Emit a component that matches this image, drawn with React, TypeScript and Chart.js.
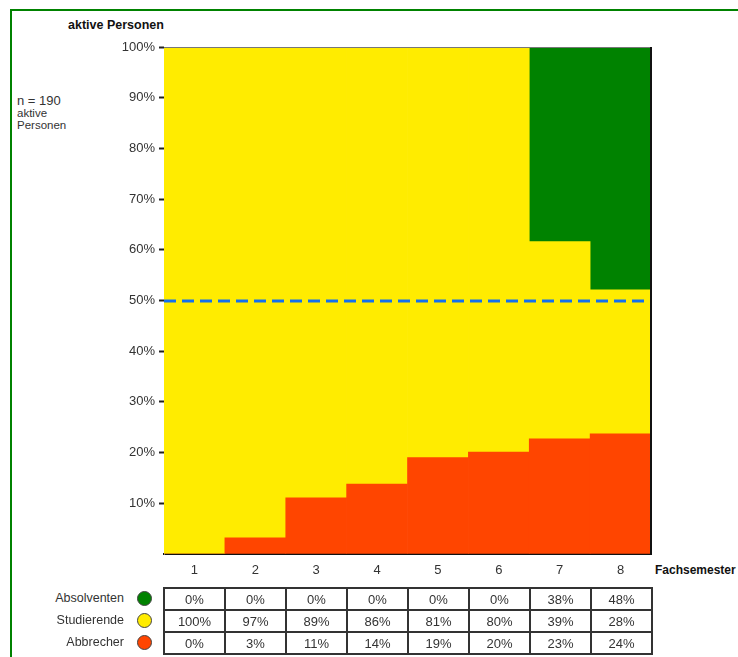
import React, { useEffect, useRef } from "react";
import { Chart, registerables } from "chart.js";

Chart.register(...registerables);

const CATEGORIES = ["1", "2", "3", "4", "5", "6", "7", "8"];
const ABBRECHER = [0, 3.2, 11.1, 13.8, 19.0, 20.1, 22.7, 23.7];
const STUDIERENDE = [100, 96.8, 88.9, 86.2, 81.0, 79.9, 38.9, 28.4];
const ABSOLVENTEN = [0, 0, 0, 0, 0, 0, 38.4, 47.9];
const THRESHOLD = 50;
const Y_TICKS = [0, 10, 20, 30, 40, 50, 60, 70, 80, 90, 100];

const TABLE_ABSOLVENTEN = ["0%", "0%", "0%", "0%", "0%", "0%", "38%", "48%"];
const TABLE_STUDIERENDE = ["100%", "97%", "89%", "86%", "81%", "80%", "39%", "28%"];
const TABLE_ABBRECHER = ["0%", "3%", "11%", "14%", "19%", "20%", "23%", "24%"];

const GREEN = "#008200";
const YELLOW = "#FFEC00";
const RED = "#FF4500";
const FONT = "'Liberation Sans', Arial, sans-serif";

const frameAndLinePlugin = {
  id: "frameAndLine",
  afterDatasetsDraw(chart: any) {
    const { ctx, chartArea, scales } = chart;
    const y = Math.round(scales.y.getPixelForValue(THRESHOLD));
    ctx.save();
    ctx.strokeStyle = "#1470ee";
    ctx.lineWidth = 3;
    ctx.setLineDash([12, 6]);
    ctx.beginPath();
    ctx.moveTo(chartArea.left, y);
    ctx.lineTo(chartArea.right, y);
    ctx.stroke();
    ctx.setLineDash([]);
    // top and right plot frame
    ctx.strokeStyle = "#777";
    ctx.lineWidth = 1;
    ctx.beginPath();
    ctx.moveTo(chartArea.left, chartArea.top + 0.5);
    ctx.lineTo(chartArea.right, chartArea.top + 0.5);
    ctx.stroke();
    ctx.strokeStyle = "#111";
    ctx.lineWidth = 2;
    ctx.beginPath();
    ctx.moveTo(chartArea.right, chartArea.top);
    ctx.lineTo(chartArea.right, chartArea.bottom);
    ctx.stroke();
    ctx.restore();
  },
};

const rows = [
  { label: "Absolventen", color: GREEN, values: TABLE_ABSOLVENTEN },
  { label: "Studierende", color: YELLOW, values: TABLE_STUDIERENDE },
  { label: "Abbrecher", color: RED, values: TABLE_ABBRECHER },
];

export default function App() {
  const canvasRef = useRef<HTMLCanvasElement | null>(null);

  useEffect(() => {
    if (!canvasRef.current) return;
    const chart = new Chart(canvasRef.current, {
      type: "bar",
      data: {
        labels: CATEGORIES,
        datasets: [
          { label: "Abbrecher", data: ABBRECHER, backgroundColor: RED, borderWidth: 0, categoryPercentage: 1, barPercentage: 1 },
          { label: "Studierende", data: STUDIERENDE, backgroundColor: YELLOW, borderWidth: 0, categoryPercentage: 1, barPercentage: 1 },
          { label: "Absolventen", data: ABSOLVENTEN, backgroundColor: GREEN, borderWidth: 0, categoryPercentage: 1, barPercentage: 1 },
        ],
      },
      options: {
        animation: false,
        responsive: false,
        maintainAspectRatio: false,
        layout: { padding: { top: 17, right: 19, left: 0, bottom: 0 } },
        plugins: { legend: { display: false }, tooltip: { enabled: false } },
        scales: {
          x: {
            stacked: true,
            grid: { display: false, drawTicks: false },
            border: { display: true, color: "#111", width: 2 },
            ticks: { color: "#333", font: { family: FONT, size: 13 }, padding: 9 },
            afterFit: (s: any) => { s.height = 36; },
          },
          y: {
            stacked: true,
            min: 0,
            max: 100,
            afterBuildTicks: (s: any) => { s.ticks = Y_TICKS.map((v) => ({ value: v })); },
            ticks: {
              color: "#333",
              font: { family: FONT, size: 13 },
              padding: 4,
              callback: (v: any) => (Number(v) === 0 ? "" : v + "%"),
            },
            grid: {
              drawOnChartArea: false,
              drawTicks: true,
              tickLength: 5,
              tickColor: (c: any) => (c.tick && c.tick.value === 0 ? "rgba(0,0,0,0)" : "#222"),
              tickWidth: 2,
            },
            border: { display: true, color: "#777", width: 1 },
            afterFit: (s: any) => { s.width = 64; },
          },
        },
      },
      plugins: [frameAndLinePlugin],
    });
    return () => chart.destroy();
  }, []);

  return (
    <div style={{ position: "fixed", left: 0, top: 0, width: 738, height: 657, overflow: "hidden", background: "#fff", fontFamily: FONT, color: "#333" }}>
      <div style={{ position: "absolute", left: 10, top: 9, width: 800, height: 720, border: `2px solid ${GREEN}` }} />
      <div style={{ position: "absolute", left: 68, top: 18, fontSize: 12.5, fontWeight: "bold", lineHeight: "14px", color: "#111" }}>aktive Personen</div>
      <div style={{ position: "absolute", left: 17, top: 93, fontSize: 13, lineHeight: "15px" }}>n = 190</div>
      <div style={{ position: "absolute", left: 17, top: 107, fontSize: 11.5, lineHeight: "12px" }}>aktive</div>
      <div style={{ position: "absolute", left: 17, top: 119, fontSize: 11.5, lineHeight: "12px" }}>Personen</div>
      <div style={{ position: "absolute", left: 655, top: 563, fontSize: 12, fontWeight: "bold", lineHeight: "14px", color: "#111" }}>Fachsemester</div>
      <canvas ref={canvasRef} width={570} height={560} style={{ position: "absolute", left: 100, top: 30, width: 570, height: 560 }} />
      {rows.map((r, i) => (
        <React.Fragment key={r.label}>
          <div style={{ position: "absolute", right: 738 - 124, top: 590 + i * 22, fontSize: 12.5, lineHeight: "16px", whiteSpace: "nowrap" }}>{r.label}</div>
          <div style={{ position: "absolute", left: 137, top: 591 + i * 22, width: 15, height: 15, boxSizing: "border-box", borderRadius: "50%", background: r.color, border: "1px solid #444" }} />
        </React.Fragment>
      ))}
      <div style={{ position: "absolute", left: 163, top: 587, display: "grid", gridTemplateColumns: "repeat(8, 59px)", gridAutoRows: "20px", gap: 2, padding: 2, background: "#333" }}>
        {rows.map((r) =>
          r.values.map((v, j) => (
            <div key={r.label + j} style={{ background: "#fff", display: "flex", alignItems: "center", justifyContent: "center", fontSize: 13 }}>{v}</div>
          ))
        )}
      </div>
    </div>
  );
}
